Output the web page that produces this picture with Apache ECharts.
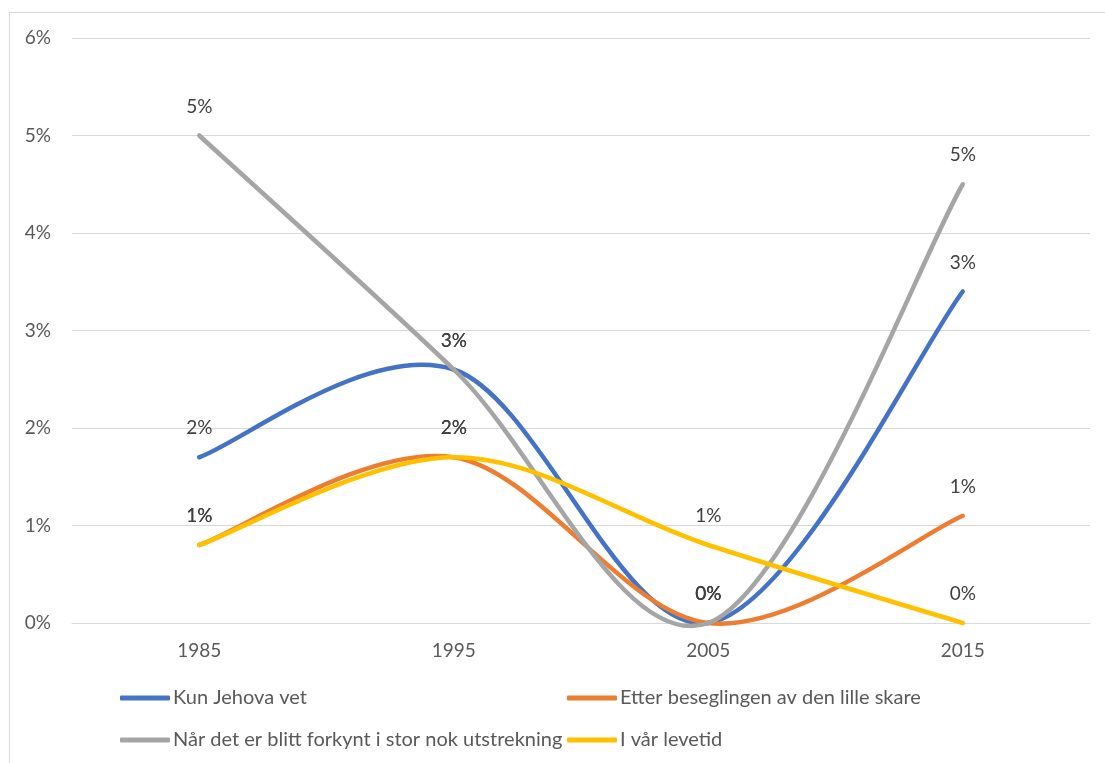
<!DOCTYPE html>
<html>
<head>
<meta charset="utf-8">
<script src="https://cdn.jsdelivr.net/npm/echarts@6/dist/echarts.min.js"></script>
<style>
  html, body { margin: 0; padding: 0; background: #fff; }
  #chart { width: 1105px; height: 763px; }
</style>
</head>
<body>
<div id="chart"></div>
<script>
// Years on the x axis
const years = ['1985', '1995', '2005', '2015']

// Series values, in percent
const kunJehova = [1.7, 2.6, 0, 3.4]
const etterBeseglingen = [0.8, 1.7, 0, 1.1]
const naarForkynt = [5.0, 2.6, 0, 4.5]
const iVaarLevetid = [0.8, 1.7, 0.8, 0]

const seriesNames = [
  'Kun Jehova vet',
  'Etter beseglingen av den lille skare',
  'Når det er blitt forkynt i stor nok utstrekning',
  'I vår levetid'
]
const colors = ['#4472C4', '#ED7D31', '#A5A5A5', '#FFC000']

const font = 'Lato, "Liberation Sans", sans-serif'

const chart = echarts.init(document.getElementById('chart'))

// Excel-style smoothed line: each item draws the curve to the next point
// (Catmull-Rom control points) plus its own data label
const makeSeries = (name, values, color) => ({
  name,
  type: 'custom',
  data: years.map((y, i) => [y, values[i]]),
  encode: { x: 0, y: 1 },
  itemStyle: { color },
  clip: false,
  renderItem: (params, api) => {
    const n = values.length
    const i = params.dataIndex
    const pt = (k) => {
      const j = Math.max(0, Math.min(n - 1, k))
      return api.coord([api.value(0, j), api.value(1, j)])
    }
    const p1 = pt(i)
    const children = []
    if (i < n - 1) {
      const p0 = pt(i - 1)
      const p2 = pt(i + 1)
      const p3 = pt(i + 2)
      children.push({
        type: 'bezierCurve',
        shape: {
          x1: p1[0], y1: p1[1],
          x2: p2[0], y2: p2[1],
          cpx1: p1[0] + (p2[0] - p0[0]) / 6,
          cpy1: p1[1] + (p2[1] - p0[1]) / 6,
          cpx2: p2[0] - (p3[0] - p1[0]) / 6,
          cpy2: p2[1] - (p3[1] - p1[1]) / 6
        },
        style: { stroke: color, lineWidth: 4.5, fill: null, lineCap: 'round' }
      })
    }
    children.push({
      type: 'text',
      x: p1[0],
      y: p1[1] - 29,
      z2: 10,
      style: {
        text: Math.round(api.value(1, i)) + '%',
        fill: '#404040',
        font: '19px ' + font,
        align: 'center',
        verticalAlign: 'middle'
      }
    })
    return { type: 'group', children }
  }
})

const legendBase = {
  orient: 'vertical',
  top: 688,
  padding: 0,
  itemWidth: 50,
  itemHeight: 5,
  itemGap: 22,
  icon: 'roundRect',
  textStyle: { color: '#595959', fontFamily: font, fontSize: 20, lineHeight: 20, padding: [0, 0, 0, -2] }
}

chart.setOption({
  animation: false,
  grid: { left: 72, right: 15, top: 38, bottom: 140 },
  graphic: [
    {
      type: 'rect',
      silent: true,
      shape: { x: 9.5, y: 12.5, width: 1200, height: 800 },
      style: { fill: 'none', stroke: '#d9d9d9', lineWidth: 1 }
    }
  ],
  legend: [
    Object.assign({}, legendBase, { left: 120, data: [seriesNames[0], seriesNames[2]] }),
    Object.assign({}, legendBase, { left: 567, data: [seriesNames[1], seriesNames[3]] })
  ],
  xAxis: {
    type: 'category',
    data: years,
    boundaryGap: true,
    axisLine: { lineStyle: { color: '#d9d9d9', width: 1 } },
    axisTick: { show: false },
    axisLabel: { color: '#595959', fontFamily: font, fontSize: 19, margin: 18 }
  },
  yAxis: {
    type: 'value',
    min: 0,
    max: 6,
    interval: 1,
    axisLine: { show: false },
    axisTick: { show: false },
    splitLine: { lineStyle: { color: '#d9d9d9', width: 1 } },
    axisLabel: { color: '#595959', fontFamily: font, fontSize: 19, margin: 21, formatter: '{value}%' }
  },
  series: [
    makeSeries(seriesNames[0], kunJehova, colors[0]),
    makeSeries(seriesNames[1], etterBeseglingen, colors[1]),
    makeSeries(seriesNames[2], naarForkynt, colors[2]),
    makeSeries(seriesNames[3], iVaarLevetid, colors[3])
  ]
})
</script>
</body>
</html>
